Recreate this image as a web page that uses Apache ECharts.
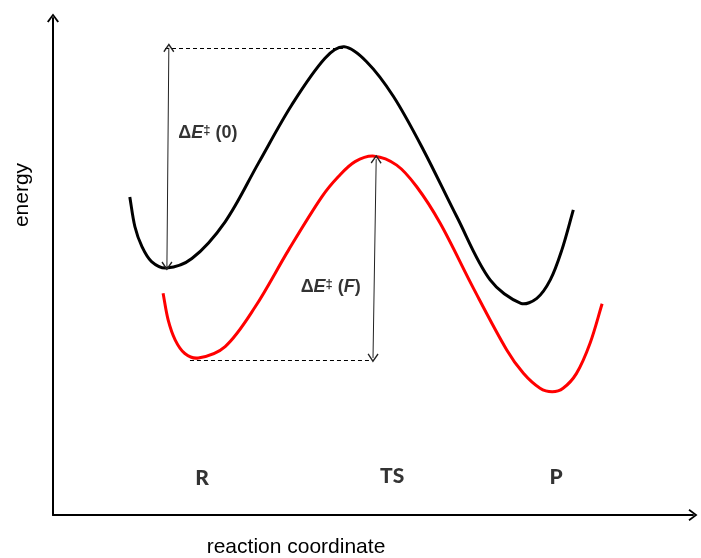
<!DOCTYPE html>
<html>
<head>
<meta charset="utf-8">
<script src="https://cdn.jsdelivr.net/npm/echarts@6/dist/echarts.min.js"></script>
<style>
  html, body { margin: 0; padding: 0; background: #fff; }
  #chart { width: 701px; height: 558px; }
</style>
</head>
<body>
<div id="chart"></div>
<script>
// energy profile without field (black) and with field F (red)
const curve0X = [12.0, 12.8, 13.9, 15.4, 17.7, 21.7, 26.9, 32.1, 37.3, 42.5, 45.5, 49.0, 53.2, 57.9, 63.1, 68.3, 73.1, 75.6, 77.7, 79.5, 81.3];
const curve0Y = [64.0, 58.0, 54.0, 51.0, 49.7, 51.6, 59.0, 70.8, 82.5, 91.9, 94.2, 91.2, 84.2, 73.4, 60.0, 47.3, 42.6, 43.6, 47.3, 53.3, 61.4];
const curveFX = [17.2, 18.0, 19.1, 20.6, 22.7, 26.9, 31.6, 36.8, 42.0, 44.6, 47.2, 50.2, 53.7, 56.8, 60.5, 65.7, 70.9, 73.5, 76.1, 78.0, 79.7, 81.8, 83.9, 85.8];
const curveFY = [44.6, 39.2, 35.2, 32.5, 31.6, 33.9, 41.9, 53.3, 64.0, 68.1, 71.1, 72.2, 70.4, 66.1, 58.7, 45.6, 33.2, 28.5, 25.5, 24.8, 25.5, 28.5, 34.5, 42.5];

// barrier annotations: [x start, x end, level]
const dashed0 = [17.5, 45.3, 94.0];
const dashedF = [21.4, 50.0, 31.2];
// double arrows: [x top, y top, x bottom, y bottom]
const arrow0 = [18.1, 94.0, 17.8, 50.1];
const arrowF = [50.5, 71.6, 50.0, 31.6];

const stateNames = ['R', 'TS', 'P'];
const stateX = [23.3, 53.0, 78.6];
const stateY = [7.4, 7.8, 7.6];

const barrierNames = ['{n|Δ}{i|E}{s|‡}{n| (0)}', '{n|Δ}{i|E}{s|‡}{n| (}{i|F}{n|)}'];
const barrierX = [24.2, 43.4];
const barrierY = [76.8, 45.9];

const zip = (xs, ys) => xs.map((x, i) => [x, ys[i]]);

const chevron = 'path://M5,0 L10,8 L9,9 L5,2.4 L1,9 L0,8 Z';
const axisChevron = 'path://M6,0 L12,8 L10.4,9 L6,2.8 L1.6,9 L0,8 Z';

const dashLine = (d) => [
  { coord: [d[0], d[2]], symbol: 'none', lineStyle: { type: [4, 3], width: 1, color: '#000' } },
  { coord: [d[1], d[2]], symbol: 'none' }
];
const arrowLine = (a) => [
  { coord: [a[0], a[1]], symbol: chevron, symbolSize: [11, 9], lineStyle: { type: 'solid', width: 1, color: '#222' } },
  { coord: [a[2], a[3]], symbol: chevron, symbolSize: [11, 9] }
];

// smooth path through the points (tangent scaled by segment length)
function smoothPath(pts) {
  const dist = (a, b) => Math.hypot(b[0] - a[0], b[1] - a[1]);
  const n = pts.length;
  const cpIn = [], cpOut = [];
  for (let i = 0; i < n; i++) {
    const prev = pts[Math.max(i - 1, 0)];
    const next = pts[Math.min(i + 1, n - 1)];
    const d0 = dist(prev, pts[i]), d1 = dist(pts[i], next);
    const tx = next[0] - prev[0], ty = next[1] - prev[1];
    const sum = d0 + d1 || 1;
    cpIn.push([pts[i][0] - tx * d0 / sum / 3, pts[i][1] - ty * d0 / sum / 3]);
    cpOut.push([pts[i][0] + tx * d1 / sum / 3, pts[i][1] + ty * d1 / sum / 3]);
  }
  let d = 'M' + pts[0][0] + ' ' + pts[0][1];
  for (let i = 0; i < n - 1; i++) {
    d += ' C' + cpOut[i][0] + ' ' + cpOut[i][1] + ' ' + cpIn[i + 1][0] + ' ' + cpIn[i + 1][1] + ' ' + pts[i + 1][0] + ' ' + pts[i + 1][1];
  }
  return d;
}

function curveSeries(name, xs, ys, color) {
  const data = zip(xs, ys);
  return {
    name: name,
    type: 'custom',
    coordinateSystem: 'cartesian2d',
    silent: true,
    data: data,
    renderItem: function (params, api) {
      if (params.dataIndex !== 0) return;
      const pts = data.map((p) => api.coord(p));
      return {
        type: 'path',
        shape: { pathData: smoothPath(pts) },
        style: { fill: 'none', stroke: color, lineWidth: 3 }
      };
    }
  };
}

const boldText = { fontFamily: 'Liberation Sans', fontWeight: 'bold', fontSize: 18, color: '#000', textBorderWidth: 0 };

const chart = echarts.init(document.getElementById('chart'));

const option = {
  animation: false,
  backgroundColor: '#fff',
  grid: { left: 53, right: 8, top: 18, bottom: 43 },
  xAxis: {
    type: 'value',
    min: 0,
    max: 100,
    axisLine: {
      show: true,
      symbol: ['none', axisChevron],
      symbolSize: [13, 9],
      lineStyle: { color: '#000', width: 2 }
    },
    axisTick: { show: false },
    axisLabel: { show: false },
    splitLine: { show: false }
  },
  yAxis: {
    type: 'value',
    min: 0,
    max: 100,
    axisLine: {
      show: true,
      symbol: ['none', axisChevron],
      symbolSize: [13, 9],
      lineStyle: { color: '#000', width: 2 }
    },
    axisTick: { show: false },
    axisLabel: { show: false },
    splitLine: { show: false }
  },
  graphic: [
    {
      type: 'text',
      x: 22,
      y: 195,
      rotation: Math.PI / 2,
      style: {
        text: 'energy',
        font: '21px "Liberation Sans"',
        fill: '#000',
        align: 'center',
        verticalAlign: 'middle'
      }
    },
    {
      type: 'text',
      x: 296,
      y: 547,
      style: {
        text: 'reaction coordinate',
        font: '21px "Liberation Sans"',
        fill: '#000',
        align: 'center',
        verticalAlign: 'middle'
      }
    }
  ],
  series: [
    curveSeries('no field', curve0X, curve0Y, '#000'),
    curveSeries('field F', curveFX, curveFY, '#ff0000'),
    {
      type: 'scatter',
      symbolSize: 1,
      itemStyle: { color: 'transparent' },
      silent: true,
      label: {
        show: true,
        position: 'inside',
        formatter: '{b}',
        fontFamily: 'Lato',
        fontWeight: 900,
        fontSize: 21,
        color: '#000',
        textBorderWidth: 0
      },
      data: stateNames.map((n, i) => ({ name: n, value: [stateX[i], stateY[i]] })),
      markLine: {
        silent: true,
        label: { show: false },
        data: [dashLine(dashed0), dashLine(dashedF), arrowLine(arrow0), arrowLine(arrowF)]
      }
    },
    {
      type: 'scatter',
      symbolSize: 1,
      itemStyle: { color: 'transparent' },
      silent: true,
      label: {
        show: true,
        position: 'inside',
        formatter: '{b}',
        textBorderWidth: 0,
        rich: {
          n: boldText,
          i: Object.assign({}, boldText, { fontStyle: 'italic' }),
          s: Object.assign({}, boldText, { fontSize: 13, verticalAlign: 'top' })
        }
      },
      data: barrierNames.map((n, i) => ({ name: n, value: [barrierX[i], barrierY[i]] }))
    }
  ]
};

chart.setOption(option);
</script>
</body>
</html>
